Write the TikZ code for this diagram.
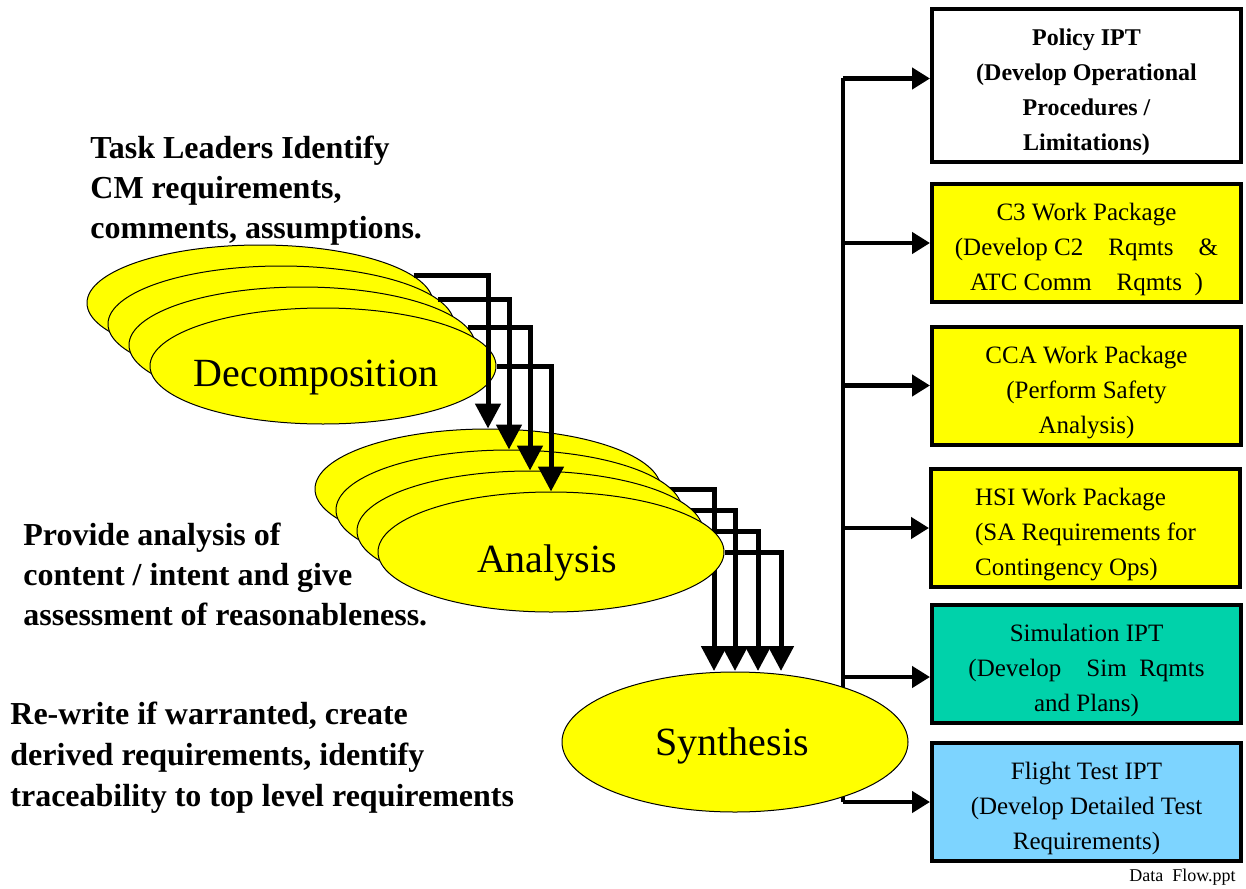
\documentclass[tikz,border=0pt]{standalone}
\usepackage{fontspec}
\setmainfont{Liberation Serif}
\usetikzlibrary{shapes.geometric,arrows.meta,backgrounds}

\definecolor{padyellow}{RGB}{255,255,0}
\definecolor{simgreen}{RGB}{0,210,170}
\definecolor{testblue}{RGB}{125,212,255}
\newcommand{\padtop}{\rule{0pt}{15.5pt}}

\begin{document}
\begin{tikzpicture}[x=0.5pt,y=-0.5pt,
    blob/.style={ellipse,draw=black,line width=0.5pt,fill=padyellow,inner sep=0pt,minimum width=173pt},
    blobtext/.style={inner sep=0pt,font=\fontsize{20}{24}\selectfont},
    flow/.style={line width=2.5pt,-{Triangle[width=12.5pt,length=12.5pt]}},
    busline/.style={line width=2.2pt},
    branch/.style={line width=2.2pt,-{Triangle[width=10.5pt,length=9pt]}},
    ipt/.style={draw=black,line width=2pt,minimum width=154.5pt,minimum height=59pt,
      inner sep=0pt,align=center,font=\fontsize{12.5}{17.5}\selectfont},
    note/.style={align=left,inner sep=0pt,font=\fontsize{16}{20}\selectfont\bfseries}]
    \useasboundingbox (0,0) rectangle (1246,888);

    % decomposition stack
    \node[blob,minimum height=58pt] (d1) at (260,303) {};
    \node[blob,minimum height=58pt] (d2) at (281,324) {};
    \node[blob,minimum height=58pt] (d3) at (302,345) {};
    \node[blob,minimum height=58pt] (d4) at (323,366) {};
    \node[blobtext] (dlabel) at (316,378) {Decomposition};

    % analysis stack
    \node[blob,minimum height=60pt] (a1) at (488,489) {};
    \node[blob,minimum height=60pt] (a2) at (509,510) {};
    \node[blob,minimum height=60pt] (a3) at (530,531) {};
    \node[blob,minimum height=60pt] (a4) at (551,552) {};
    \node[blobtext] (alabel) at (547,563) {Analysis};

    \node[blob,minimum height=70pt] (syn) at (735,742) {};
    \node[blobtext] (slabel) at (732,746) {Synthesis};

    % work packages
    \node[ipt,fill=white,minimum height=76.5pt,font=\fontsize{12}{17.5}\selectfont\bfseries]
        (policy) at (1086.5,85.5) {\padtop Policy IPT\\(Develop Operational\\Procedures /\\Limitations)};
    \node[ipt,fill=padyellow] (c3) at (1086.5,243)
        {\padtop C3\ Work Package\\(Develop C2\quad Rqmts\quad\&\\ATC Comm\quad Rqmts\ \ )};
    \node[ipt,fill=padyellow] (cca) at (1086.5,385.5)
        {\padtop CCA Work Package\\(Perform Safety\\Analysis)};
    \node[ipt,fill=padyellow,align=left] (hsi) at (1085.5,528)
        {\padtop HSI Work Package\\(SA Requirements for\\Contingency Ops)};
    \node[ipt,fill=simgreen] (sim) at (1086.5,664)
        {\padtop Simulation IPT\\(Develop\quad Sim\ \ Rqmts\\and Plans)};
    \node[ipt,fill=testblue] (flight) at (1086.5,802)
        {\padtop Flight Test IPT\\(Develop Detailed Test\\Requirements)};

    % notes
    \node[note,anchor=north west] (tasknote) at (90,136)
        {Task Leaders Identify\\CM requirements,\\comments, assumptions.};
    \node[note,anchor=north west] (provnote) at (23,523)
        {Provide analysis of\\content / intent and give\\assessment of reasonableness.};
    \node[note,anchor=north west,font=\fontsize{16}{20.5}\selectfont\bfseries] (rwnote) at (10,702)
        {Re-write if warranted, create\\derived requirements, identify\\traceability to top level requirements};
    \node[anchor=east,inner sep=0pt,font=\fontsize{9}{10}\selectfont] (fname) at (1236,877) {Data\ \ Flow.ppt};

    % decomposition -> analysis
    \draw[flow] (d1.10) -| (a1.north);
    \draw[flow] (d2.9) -| (a2.north);
    \draw[flow] (d3.6) -| (a3.north);
    \draw[flow] (d4.east) -| (a4.north);

    % analysis -> synthesis, synthesis -> packages
    \coordinate (t1) at (714,671);
    \coordinate (t2) at (735,671);
    \coordinate (t3) at (758,671);
    \coordinate (t4) at (781,671);
    \coordinate (bus) at (843,0);
    \coordinate (pin) at ([yshift=3.5pt]policy.west);
    \coordinate (sin) at ([yshift=-6.5pt]sim.west);
    \begin{scope}[on background layer]
        \draw[flow] (a1.east) -| (t1);
        \draw[flow] (a2.east) -| (t2);
        \draw[flow] (a3.east) -| (t3);
        \draw[flow] (a4.east) -| (t4);
        \draw[busline] (pin -| bus) -- (flight.west -| bus);
        \draw[branch] (pin -| bus) -- (pin);
        \draw[branch] (c3.west -| bus) -- (c3.west);
        \draw[branch] (cca.west -| bus) -- (cca.west);
        \draw[branch] (hsi.west -| bus) -- (hsi.west);
        \draw[branch] (sin -| bus) -- (sin);
        \draw[branch] (flight.west -| bus) -- (flight.west);
    \end{scope}
\end{tikzpicture}
\end{document}
